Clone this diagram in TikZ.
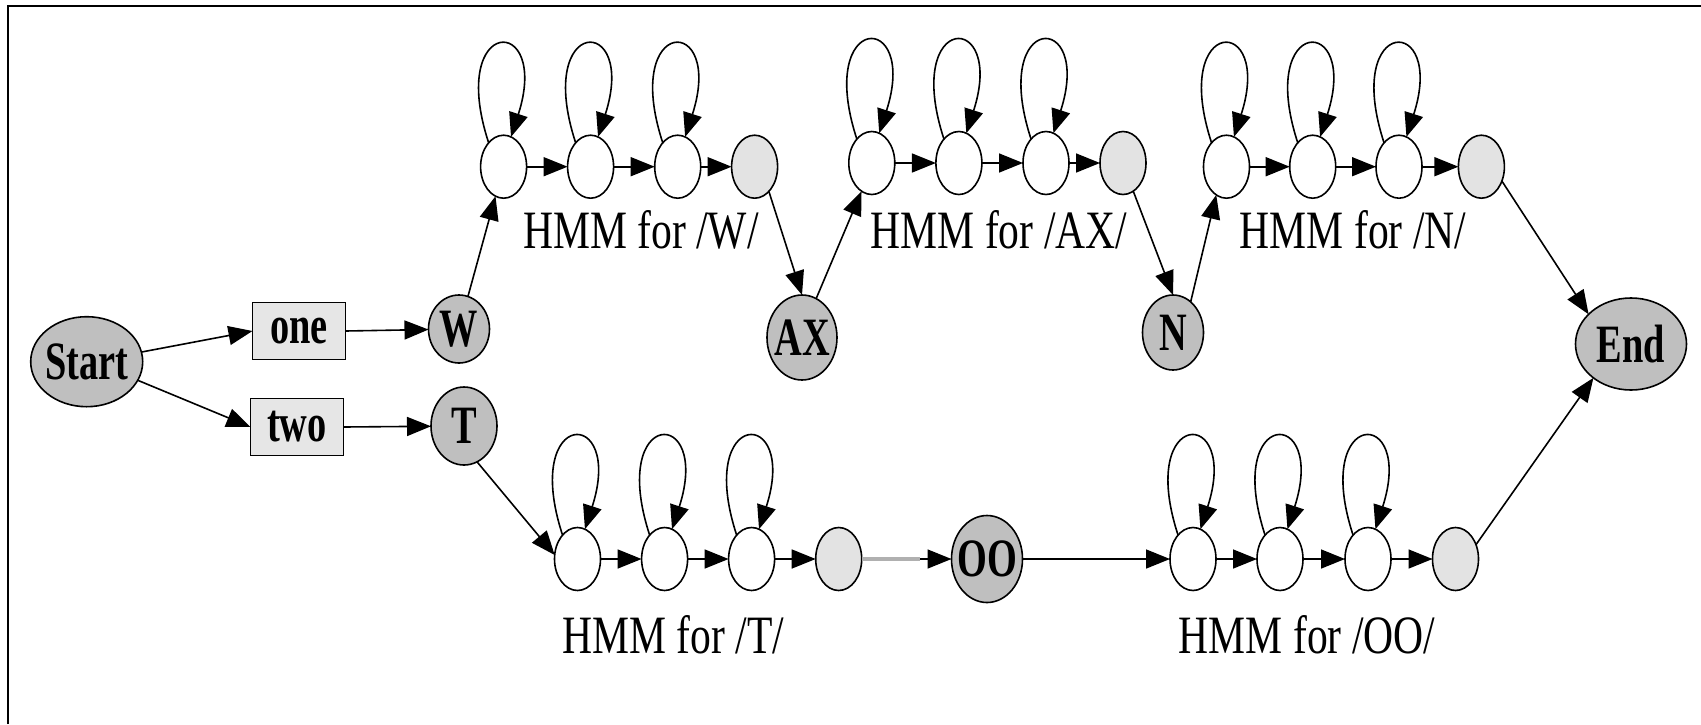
\documentclass[tikz,border=0pt]{standalone}
\usepackage{fontspec}
\usepackage{graphicx}
\setmainfont{Liberation Serif}
\usetikzlibrary{shapes.geometric,arrows.meta}

\definecolor{phonefill}{HTML}{BFBFBF}
\definecolor{exitfill}{HTML}{E3E3E3}
\definecolor{wordfill}{HTML}{E6E6E6}
\definecolor{skipgray}{HTML}{B0B0B0}

% narrow setting of the serif text
\newcommand{\cond}[1]{\scalebox{0.77}[1]{#1}}
% narrow bold setting for the word and phone names
\newcommand{\condb}[1]{\scalebox{0.71}[1]{\bfseries #1}}

\begin{document}
\begin{tikzpicture}[x=1pt,y=-1pt,
  font=\fontsize{54}{60}\selectfont,
  every node/.style={inner sep=0pt, outer sep=0pt},
  oval/.style={ellipse, draw, line width=1.6pt},
  phonenode/.style={oval, fill=phonefill},
  emit/.style={oval, fill=white, minimum width=46pt, minimum height=63pt},
  exitst/.style={oval, fill=exitfill, minimum width=46pt, minimum height=63pt},
  wordnode/.style={rectangle, draw, line width=1.6pt, fill=wordfill,
                   minimum width=93pt, minimum height=57pt},
  link/.style={line width=1.6pt, -{Triangle[length=24pt,width=19pt]}},
  hmmlabel/.style={anchor=base}
]
\useasboundingbox (0,0) rectangle (1701,724);

% frame
\draw[line width=2.2pt, line join=miter] (8,724) -- (8,6) -- (1701,6);

% word level
\node[phonenode, minimum width=112pt, minimum height=90pt,
      label={center:\condb{Start}}] (start) at (86.7,361.7) {};
\node[wordnode] (one) at (299,331) {\condb{one}};
\node[wordnode] (two) at (297,427) {\condb{two}};

% phone nodes
\node[phonenode, minimum width=61pt, minimum height=68pt,
      label={center:\condb{W}}] (w) at (459,329) {};
\node[phonenode, minimum width=66pt, minimum height=78pt,
      label={center:\condb{T}}] (t) at (464,426) {};
\node[phonenode, minimum width=70pt, minimum height=85pt,
      label={center:\condb{AX}}] (ax) at (802,337.5) {};
\node[phonenode, minimum width=61pt, minimum height=75pt,
      label={center:\condb{N}}] (n) at (1173,332.5) {};
\node[phonenode, minimum width=71pt, minimum height=87pt,
      label={center:\condb{OO}}] (oo) at (987,559) {};
\node[phonenode, minimum width=111pt, minimum height=92pt,
      label={center:\condb{End}}] (end) at (1631,344) {};

% HMM state chains
\foreach \i/\x in {1/503.6,2/590.6,3/677.7} \node[emit] (w\i) at (\x,166.7) {};
\node[exitst] (w4) at (754.6,166.7) {};
\foreach \i/\x in {1/871.8,2/958.9,3/1046} \node[emit] (a\i) at (\x,163) {};
\node[exitst] (a4) at (1123,163) {};
\foreach \i/\x in {1/1226.5,2/1312.7,3/1399} \node[emit] (n\i) at (\x,166.7) {};
\node[exitst] (n4) at (1481.4,166.7) {};
\foreach \i/\x in {1/577.5,2/664.6,3/751.6} \node[emit] (t\i) at (\x,559) {};
\node[exitst] (t4) at (838.7,559) {};
\foreach \i/\x in {1/1193,2/1280,3/1368} \node[emit] (o\i) at (\x,559) {};
\node[exitst] (o4) at (1455.5,559) {};

% self loops and forward transitions
\foreach \p in {w,a,n,t,o}{
  \foreach \i in {1,2,3}
    \draw[link] (\p\i.122) .. controls +(-42,-128) and +(40,-124) .. (\p\i.76);
  \draw[link] (\p1) -- (\p2);
  \draw[link] (\p2) -- (\p3);
  \draw[link] (\p3) -- (\p4);
}

% labels
\node[hmmlabel] (lw) at (641,248) {\cond{HMM for /W/}};
\node[hmmlabel] (la) at (999,248) {\cond{HMM for /AX/}};
\node[hmmlabel] (ln) at (1353,248) {\cond{HMM for /N/}};
\node[hmmlabel] (lt) at (673.5,653) {\cond{HMM for /T/}};
\node[hmmlabel] (lo) at (1307,653) {\cond{HMM for /OO/}};

% connectors between levels
\draw[link] (start.10) -- (one.west);
\draw[link] (start.-20) -- (two.west);
\draw[link] (one.east) -- (w);
\draw[link] (two.east) -- (t);
\draw[link] (w) -- (w1);
\draw[link] (w4.-60) -- (ax.north);
\draw[link] (ax.70) -- (a1.-110);
\draw[link] (a4.-70) -- (n.north);
\draw[link] (n.60) -- (n1.-110);
\draw[link] (n4.-35) -- (end.145);
\draw[link] (t.-70) -- (t1.170);
\draw[link] (t4) -- (oo);
\draw[line width=4pt, skipgray] (t4.east) -- ++(58,0);
\draw[link] (oo) -- (o1);
\draw[link] (o4.35) -- (end.-138);
\end{tikzpicture}
\end{document}
